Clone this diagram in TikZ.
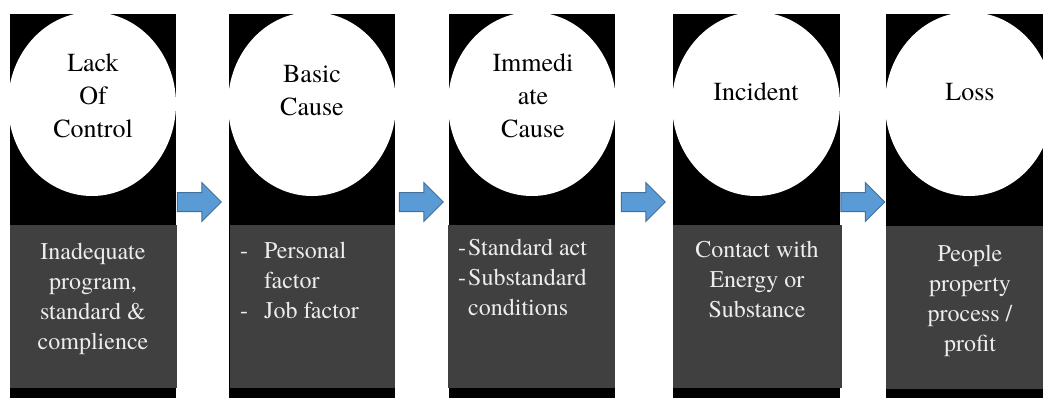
\documentclass[tikz,border=0pt]{standalone}
\usepackage{fontspec}
\setmainfont{texgyretermes-regular.otf}
\usetikzlibrary{shapes.arrows}

\definecolor{slab}{HTML}{404040}
\definecolor{arrowfill}{HTML}{5B9BD5}
\definecolor{arrowline}{HTML}{41719C}

\tikzset{
  toptext/.style={align=center,inner sep=0pt,text=black,font=\fontsize{26}{33}\selectfont},
  lowtext/.style={inner sep=0pt,anchor=north,text=white!93!black,font=\fontsize{24}{30}\selectfont},
  flowarrow/.style={single arrow,draw=arrowline,fill=arrowfill,line width=1pt,
    minimum height=44pt,inner xsep=0pt,inner ysep=9pt,single arrow head extend=10pt}
}

\begin{document}
\begin{tikzpicture}[x=1pt,y=-1pt]
\clip (0,0) rectangle (1043,398);
\fill[white] (0,0) rectangle (1043,398);

% dominoes
\fill[black] (10,14)  rectangle (176,400);
\fill[black] (229,14) rectangle (395,400);
\fill[black] (449,14) rectangle (615,400);
\fill[black] (673,14) rectangle (840,400);
\fill[black] (886,14) rectangle (1052,400);

\fill[white] (92,104)  ellipse (84 and 92);
\fill[white] (312,104) ellipse (84 and 92);
\fill[white] (532,104) ellipse (84 and 92);
\fill[white] (756,104) ellipse (84 and 92);
\fill[white] (969,104) ellipse (84 and 92);

\fill[slab] (10,225)  rectangle (177,388);
\fill[slab] (230,225) rectangle (395,388);
\fill[slab] (448,225) rectangle (615,388);
\fill[slab] (673,225) rectangle (842,388);
\fill[slab] (886,226) rectangle (1052,389);

% circle labels
\node[toptext] (lack) at (93,96)  {Lack\\Of\\Control};
\node[toptext] (basic) at (312,91) {Basic\\Cause};
\node[toptext] (immediate) at (533,96) {Immedi\\ate\\Cause};
\node[toptext] (incident) at (756,92) {Incident};
\node[toptext] (loss) at (970,92) {Loss};

% slab labels
\node[lowtext,align=center] (program) at (93,243) {Inadequate\\program,\\standard \&\\complience};
\node[lowtext,align=left,anchor=north west] (factor) at (240,242) {\makebox[24pt][l]{-}Personal\\\makebox[24pt][l]{}factor\\\makebox[24pt][l]{-}Job factor};
\node[lowtext,align=left,anchor=north west] (act) at (458,239) {\makebox[10pt][l]{-}Standard act\\\makebox[10pt][l]{-}Substandard\\\makebox[10pt][l]{}conditions};
\node[lowtext,align=center] (contact) at (757,241) {Contact with\\Energy or\\Substance};
\node[lowtext,align=center] (people) at (970,245) {People\\property\\process /\\profit};

% arrows
\node[flowarrow] (a1) at (194.5,202) {};
\node[flowarrow] (a2) at (416.5,202) {};
\node[flowarrow] (a3) at (638.5,202) {};
\node[flowarrow] (a4) at (858,202) {};

\end{tikzpicture}
\end{document}
